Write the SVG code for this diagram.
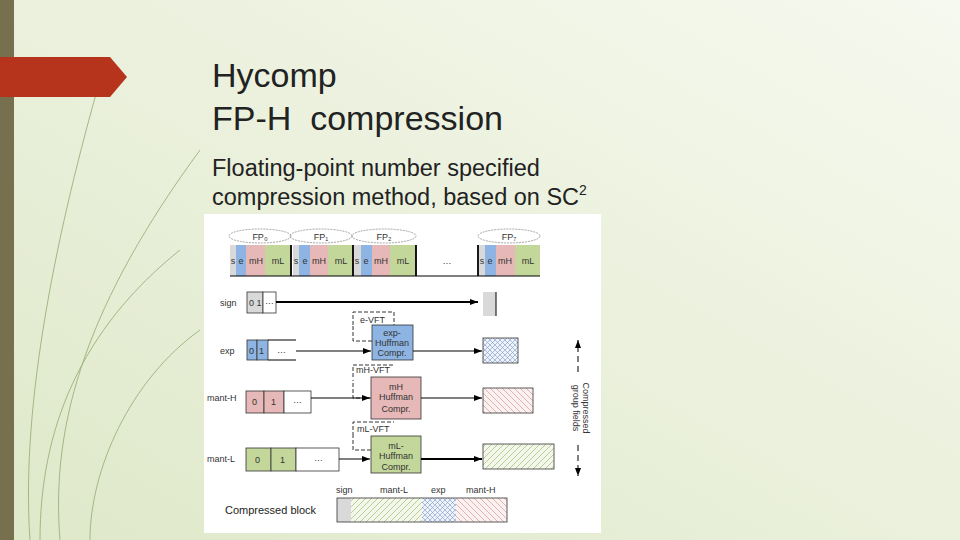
<svg xmlns="http://www.w3.org/2000/svg" width="960" height="540" viewBox="0 0 960 540">
<defs>
<linearGradient id="bg" x1="0" y1="1" x2="1" y2="0"><stop offset="0" stop-color="#dfe8c9"/><stop offset="1" stop-color="#f6f9ef"/></linearGradient>
<pattern id="hg" width="6" height="6" patternUnits="userSpaceOnUse"><rect width="6" height="6" fill="#f4f8ec"/><path d="M0 6L6 0M-1 1L1 -1M5 7L7 5" stroke="#a9c07a" stroke-width="0.8"/></pattern>
<pattern id="hp" width="6" height="6" patternUnits="userSpaceOnUse"><rect width="6" height="6" fill="#fbf1f0"/><path d="M0 0L6 6M-1 5L1 7M5 -1L7 1" stroke="#d9a3a0" stroke-width="0.8"/></pattern>
<pattern id="hx" width="5" height="5" patternUnits="userSpaceOnUse"><rect width="5" height="5" fill="#eef3fb"/><path d="M0 0L5 5M5 0L0 5" stroke="#7a97c2" stroke-width="0.6"/></pattern>
<marker id="ar" markerWidth="8" markerHeight="6" refX="8" refY="3" orient="auto" markerUnits="userSpaceOnUse"><path d="M0 0L8 3L0 6z" fill="#000"/></marker>
</defs>
<style>
.t{font-family:"Liberation Sans",Arial,sans-serif;fill:#222}
.f{font-family:"Liberation Sans",Arial,sans-serif;font-size:9px;fill:#333}
.b{stroke:#333;stroke-width:0.8}
.ln{stroke:#000;stroke-width:1;fill:none}
.dash{stroke:#000;stroke-width:0.8;fill:none;stroke-dasharray:4 2}
</style>
<rect width="960" height="540" fill="url(#bg)"/>
<rect width="14" height="540" fill="#77704f"/>
<g fill="none" stroke="#a3b785" stroke-width="1">
<path d="M30 540C20 400 60 220 100 80"/>
<path d="M60 540C50 420 90 300 200 150"/>
<path d="M40 540C40 430 80 330 180 250"/>
<path d="M90 540C90 470 130 380 200 330"/>
</g>
<path d="M0 57H110L127 77L110 97H0Z" fill="#b5341b"/>
<text class="t" x="212" y="87" font-size="34">Hycomp</text>
<text class="t" x="212" y="130" font-size="34" xml:space="preserve">FP-H  compression</text>
<text class="t" x="212" y="176" font-size="23.5">Floating-point number specified</text>
<text class="t" x="212" y="205" font-size="23.5">compression method, based on SC<tspan font-size="14" dy="-10">2</tspan></text>
<rect x="204" y="214" width="397" height="319" fill="#fff"/>
<g id="fprow">
<g fill="none" stroke="#666" stroke-width="0.6" stroke-dasharray="2 1">
<ellipse cx="260" cy="236" rx="31" ry="7"/><ellipse cx="321" cy="236" rx="31" ry="7"/><ellipse cx="384" cy="236" rx="32" ry="7"/><ellipse cx="509" cy="236" rx="31" ry="7"/></g>
<g class="f" font-family="Liberation Serif" text-anchor="middle" fill="#4a7"><text x="260" y="240">FP₀</text><text x="321" y="240">FP₁</text><text x="384" y="240">FP₂</text><text x="509" y="240">FP₇</text></g>
<rect x="230" y="245" width="6" height="31" fill="#d9d9d9"/><rect x="236" y="245" width="10" height="31" fill="#8db4e2"/><rect x="246" y="245" width="19" height="31" fill="#e6b8b7"/><rect x="265" y="245" width="25" height="31" fill="#c4d79b"/>
<rect x="293" y="245" width="6" height="31" fill="#d9d9d9"/><rect x="299" y="245" width="11" height="31" fill="#8db4e2"/><rect x="310" y="245" width="18" height="31" fill="#e6b8b7"/><rect x="328" y="245" width="25" height="31" fill="#c4d79b"/>
<rect x="354" y="245" width="7" height="31" fill="#d9d9d9"/><rect x="361" y="245" width="11" height="31" fill="#8db4e2"/><rect x="372" y="245" width="18" height="31" fill="#e6b8b7"/><rect x="390" y="245" width="26" height="31" fill="#c4d79b"/>
<rect x="479" y="245" width="6" height="31" fill="#d9d9d9"/><rect x="485" y="245" width="11" height="31" fill="#8db4e2"/><rect x="496" y="245" width="19" height="31" fill="#e6b8b7"/><rect x="515" y="245" width="25" height="31" fill="#c4d79b"/>
<path d="M230 276H540" class="ln"/>
<path d="M291 245V276M353 245V276M416 245V276M478 245V276" stroke="#000" stroke-width="1.8"/>
<g class="f" text-anchor="middle"><text x="233" y="264">s</text><text x="241" y="264">e</text><text x="256" y="264">mH</text><text x="278" y="264">mL</text>
<text x="296" y="264">s</text><text x="305" y="264">e</text><text x="319" y="264">mH</text><text x="341" y="264">mL</text>
<text x="357" y="264">s</text><text x="366" y="264">e</text><text x="381" y="264">mH</text><text x="403" y="264">mL</text>
<text x="447" y="264">…</text>
<text x="482" y="264">s</text><text x="490" y="264">e</text><text x="505" y="264">mH</text><text x="528" y="264">mL</text></g>
</g>
<g id="sign">
<text class="f" x="220" y="306">sign</text>
<rect x="247" y="292" width="16" height="21" fill="#d9d9d9" class="b"/><rect x="263" y="292" width="13" height="21" fill="#fff" class="b"/>
<text class="f" x="249" y="306">0 1</text><text class="f" x="265" y="304">…</text>
<rect x="483" y="292" width="13" height="24" fill="#d9d9d9"/><path d="M496 292V316" class="ln"/>
</g>
<g id="exp">
<text class="f" x="220" y="354">exp</text>
<rect x="247" y="340" width="10" height="20" fill="#8db4e2" class="b"/><rect x="257" y="340" width="11" height="20" fill="#8db4e2" class="b"/>
<path d="M268 340H296M268 360H296" class="ln" stroke-width="0.8"/>
<text class="f" x="249" y="354">0</text><text class="f" x="259" y="354">1</text><text class="f" x="277" y="353">…</text>
<path d="M353 325V312H394V325M372 341H353V325" class="dash"/>
<text class="f" x="360" y="323" font-size="8">e-VFT</text>
<rect x="372" y="325" width="41" height="35" fill="#8db4e2" class="b"/>
<g class="f" font-size="8" text-anchor="middle"><text x="392" y="336">exp-</text><text x="392" y="346">Huffman</text><text x="392" y="356">Compr.</text></g>
<rect x="483" y="338" width="35" height="25" fill="url(#hx)" class="b"/>
</g>
<g id="manth">
<text class="f" x="207" y="401">mant-H</text>
<rect x="246" y="391" width="18" height="22" fill="#e6b8b7" class="b"/><rect x="264" y="391" width="20" height="22" fill="#e6b8b7" class="b"/><rect x="284" y="391" width="27" height="22" fill="#fff" class="b"/>
<text class="f" x="252" y="405">0</text><text class="f" x="271" y="405">1</text><text class="f" x="293" y="403">…</text>
<path d="M353 377V365H394M372 398H353V380" class="dash"/>
<text class="f" x="356" y="373" font-size="8">mH-VFT</text>
<rect x="371" y="377" width="50" height="42" fill="#e6b8b7" class="b"/>
<g class="f" font-size="8" text-anchor="middle"><text x="396" y="390">mH</text><text x="396" y="400">Huffman</text><text x="396" y="412">Compr.</text></g>
<rect x="483" y="388" width="50" height="25" fill="url(#hp)" class="b"/>
</g>
<g id="mantl">
<text class="f" x="207" y="462">mant-L</text>
<rect x="246" y="448" width="25" height="23" fill="#c4d79b" class="b"/><rect x="271" y="448" width="25" height="23" fill="#c4d79b" class="b"/><rect x="296" y="448" width="43" height="23" fill="#fff" class="b"/>
<text class="f" x="255" y="463">0</text><text class="f" x="280" y="463">1</text><text class="f" x="314" y="461">…</text>
<path d="M353 436V422H394M371 450H353V436" class="dash" stroke-dasharray="5 2 1 2"/>
<text class="f" x="357" y="432" font-size="8">mL-VFT</text>
<rect x="371" y="436" width="50" height="37" fill="#c4d79b" class="b"/>
<g class="f" font-size="8" text-anchor="middle"><text x="396" y="449">mL-</text><text x="396" y="459">Huffman</text><text x="396" y="470">Compr.</text></g>
<rect x="483" y="444" width="71" height="25" fill="url(#hg)" class="b"/>
</g>
<g id="block">
<text class="t" x="225" y="514" font-size="11" fill="#444">Compressed block</text>
<g class="f"><text x="336" y="493">sign</text><text x="380" y="493">mant-L</text><text x="431" y="493">exp</text><text x="466" y="493">mant-H</text></g>
<rect x="337" y="498" width="14" height="24" fill="#d9d9d9"/>
<rect x="351" y="498" width="71" height="24" fill="url(#hg)"/>
<rect x="422" y="498" width="34" height="24" fill="url(#hx)"/>
<rect x="456" y="498" width="51" height="24" fill="url(#hp)"/>
<rect x="337" y="498" width="170" height="24" fill="none" class="b"/>
</g>
<g id="side">
<text class="f" transform="translate(578 408) rotate(90)" text-anchor="middle" font-size="9"><tspan x="0" dy="-5">Compressed</tspan><tspan x="0" dy="10">group fields</tspan></text>
</g>
<g id="connectors" class="ln">
<path d="M276 302H478" stroke-width="1.8" marker-end="url(#ar)"/>
<path d="M296 351H371" marker-end="url(#ar)"/>
<path d="M413 351H482" marker-end="url(#ar)"/>
<path d="M311 398H370" marker-end="url(#ar)"/>
<path d="M421 398H482" marker-end="url(#ar)"/>
<path d="M339 459H370" marker-end="url(#ar)"/>
<path d="M421 459H482" stroke-width="1.8" marker-end="url(#ar)"/>
<path d="M578 372V340" marker-end="url(#ar)" stroke-dasharray="6 4"/>
<path d="M578 445V476" marker-end="url(#ar)" stroke-dasharray="6 4"/>
</g>
</svg>
